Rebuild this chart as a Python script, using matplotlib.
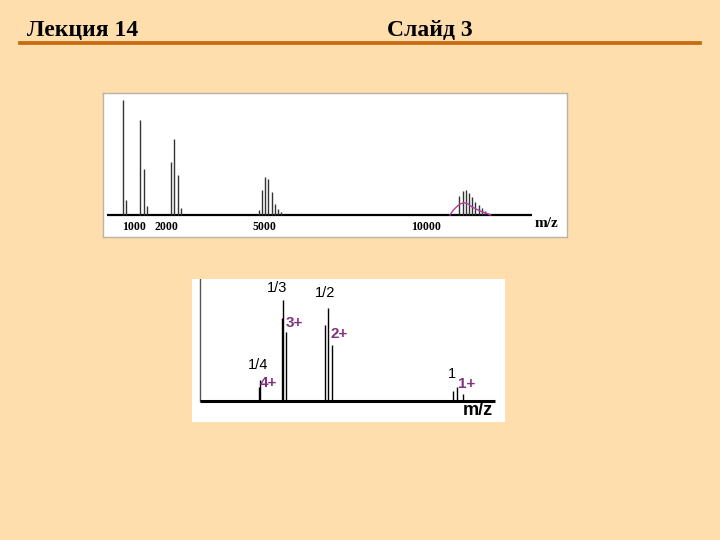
import matplotlib
matplotlib.use("Agg")
import matplotlib.pyplot as plt
from matplotlib.lines import Line2D

PAGE_BG = "#FFDEAD"
RULE_COLOR = "#C8680F"
CHARGE_COLOR = "#80307F"

# ---- header ----
header_left = "Лекция 14"
header_right = "Слайд 3"

# ---- top spectrum (m/z, relative intensity) ----
top_mz = [639, 741,
          1182, 1287, 1380,
          2139, 2231, 2336, 2429,
          4855, 4948, 5040, 5133, 5238, 5340, 5432, 5525,
          11028, 11133, 11225, 11327, 11429, 11522, 11627, 11728, 11821, 11923]
top_int = [100, 13,
           83, 40, 8,
           46, 66, 35, 6,
           4, 22, 33, 31, 20, 10, 5.5, 2.6,
           16.5, 21, 22, 19, 15.4, 11.6, 8.7, 5.8, 3.7, 2]
envelope_mz = [10738, 10843, 10948, 11049, 11182, 11306, 11410, 11565, 11719, 11873, 11997]
envelope_int = [0, 4.3, 7.2, 9.6, 10.7, 9.6, 7.2, 5.0, 2.9, 1.5, 0]
top_ticks = [1000, 2000, 5000, 10000]
top_tick_labels = ["1000", "2000", "5000", "10000"]

# ---- bottom spectrum (m/z relative to the 1+ ion) ----
bot_pos = [0.2287, 0.2326,
           0.3167, 0.3229, 0.3322,
           0.4857, 0.4973, 0.5105,
           0.9806, 0.9973, 1.0182]
bot_int = [14, 21,
           82, 100, 68,
           75, 92, 55,
           10, 14, 7]
frac_labels = ["1/4", "1/3", "1/2", "1"]
frac_x = [0.2248, 0.2984, 0.4845, 0.9767]
frac_y = [35.6, 111.6, 106.9, 26.4]
charge_labels = ["4+", "3+", "2+", "1+"]
charge_x = [0.2636, 0.3643, 0.5388, 1.0349]
charge_y = [17.8, 76.9, 66.3, 16.8]

W, H = 720, 540
fig = plt.figure(figsize=(7.2, 5.4), dpi=100, facecolor=PAGE_BG)


def px_axes(x0, y0, x1, y1):
    # axes placed by pixel box (top-left origin)
    return fig.add_axes([x0 / W, 1 - y1 / H, (x1 - x0) / W, (y1 - y0) / H])


fig.text(26.7 / W, 1 - 35.5 / H, header_left, family="Liberation Serif",
         weight="bold", size=17, va="baseline", ha="left")
fig.text(386.7 / W, 1 - 35.5 / H, header_right, family="Liberation Serif",
         weight="bold", size=17, va="baseline", ha="left")
fig.add_artist(Line2D([20 / W, 700 / W], [1 - 42.9 / H, 1 - 42.9 / H],
                      color=RULE_COLOR, lw=2.7, transform=fig.transFigure))

# top panel
ax1 = px_axes(103, 93, 567, 237)
ax1.set_facecolor("white")
for s in ax1.spines.values():
    s.set_color("#B9B2A6")
    s.set_linewidth(1)
ax1.set_xticks([])
ax1.set_yticks([])
ax1.set_xlim(31, 14352)
ax1.set_ylim(-19.1, 106.1)
ax1.plot([154, 13270], [0, 0], color="black", lw=1.6, solid_capstyle="butt")
ax1.vlines(top_mz, 0, top_int, color="#333333", lw=1.0)
ax1.plot(envelope_mz, envelope_int, color="#B3409E", lw=1.0)
for t, lab in zip(top_ticks, top_tick_labels):
    ax1.text(t, -10.2, lab, family="Liberation Serif", weight="bold",
             size=8.5, ha="center", va="center")
ax1.text(13725, -7, "m/z", family="Liberation Serif", weight="bold",
         size=11, ha="center", va="center")

# bottom panel
ax2 = px_axes(192, 279, 505, 422)
ax2.set_facecolor("white")
for s in ax2.spines.values():
    s.set_visible(False)
ax2.set_xticks([])
ax2.set_yticks([])
ax2.set_xlim(-0.031, 1.182)
ax2.set_ylim(-20.8, 120.8)
ax2.plot([0, 0], [0, 120.8], color="#555555", lw=1.0)
ax2.plot([0, 1.143], [0, 0], color="black", lw=2.2, solid_capstyle="butt")
ax2.vlines(bot_pos, 0, bot_int, color="black", lw=1.0)
for x, y, lab in zip(frac_x, frac_y, frac_labels):
    ax2.text(x, y, lab, family="Liberation Sans", size=10.5,
             ha="center", va="center")
for x, y, lab in zip(charge_x, charge_y, charge_labels):
    ax2.text(x, y, lab, family="Liberation Sans", weight="bold", size=11,
             color=CHARGE_COLOR, ha="center", va="center")
ax2.text(1.0775, -9.6, "m/z", family="Liberation Sans", weight="bold",
         size=13, ha="center", va="center")

fig.savefig("out.png", dpi=100, facecolor=PAGE_BG)
